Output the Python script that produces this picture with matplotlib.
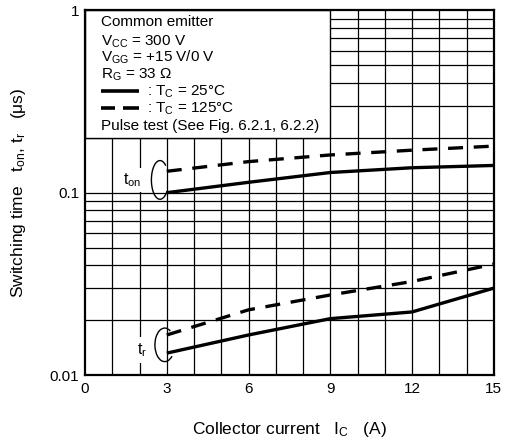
import numpy as np
import matplotlib
matplotlib.use("Agg")
import matplotlib.pyplot as plt
from matplotlib.patches import Arc, Rectangle
from matplotlib.ticker import NullLocator

plt.rcParams.update({
    "font.family": ["Liberation Sans", "DejaVu Sans"],
    "mathtext.fontset": "custom",
    "mathtext.rm": "Liberation Sans",
    "mathtext.it": "Liberation Sans",
    "mathtext.bf": "Liberation Sans:bold",
    "font.size": 11,
})

# =========================
# DATA
# =========================
ic = [3, 6, 9, 12, 15]
ton_25 = [0.100, 0.114, 0.129, 0.137, 0.141]
ton_125 = [0.131, 0.148, 0.161, 0.171, 0.180]
tr_25 = [0.0132, 0.0166, 0.0204, 0.0222, 0.0300]
tr_125 = [0.0166, 0.0228, 0.0275, 0.0326, 0.0406]

x_ticks = [0, 3, 6, 9, 12, 15]
y_ticks = [0.01, 0.1, 1]
y_tick_labels = ["0.01", "0.1", "1"]

legend_lines = [
    "Common emitter",
    r"V$_{\rm CC}$ = 300 V",
    r"V$_{\rm GG}$ = +15 V/0 V",
    r"R$_{\rm G}$ = 33 Ω",
    r": T$_{\rm C}$ = 25°C",
    r": T$_{\rm C}$ = 125°C",
    "Pulse test (See Fig. 6.2.1, 6.2.2)",
]

fig = plt.figure(figsize=(5.06, 4.45), dpi=100)
ax = fig.add_axes([0.168, 0.157, 0.808, 0.820])
ax.set_yscale("log")
ax.set_xlim(0, 15)
ax.set_ylim(0.01, 1)

# ----- grid (drawn by hand, datasheet style) -----
gkw = dict(color="black", linewidth=0.9, zorder=1)
minor_low = [k * 0.01 for k in range(2, 10)]
minor_high = [k * 0.1 for k in range(3, 10)]
ax.hlines(minor_low + [0.1, 0.2], 0, 15, **gkw)
ax.hlines(minor_high, 9, 15, **gkw)
ax.vlines(range(1, 15), 0.01, 0.2, **gkw)
ax.vlines(range(10, 15), 0.2, 1, **gkw)

# condition box in the upper-left corner
ax.add_patch(Rectangle((0, 0.2), 9, 0.8, facecolor="white", edgecolor="black",
                       linewidth=1.0, zorder=2))

# ----- curves -----
lw = 2.4
ax.plot(ic, ton_25, color="black", lw=lw, solid_capstyle="butt", zorder=4)
ax.plot(ic, ton_125, color="black", lw=lw, dashes=(4.5, 3.2), zorder=4)
ax.plot(ic, tr_25, color="black", lw=lw, solid_capstyle="butt", zorder=4)
ax.plot(ic, tr_125, color="black", lw=lw, dashes=(4.5, 3.2), zorder=4)

# ----- curve labels with brackets -----
ax.text(0.115, 0.535, r"t$_{\rm on}$", transform=ax.transAxes, ha="center",
        va="center", fontsize=11.5, zorder=3,
        bbox=dict(facecolor="white", edgecolor="none", pad=2.5))
ax.add_patch(Arc((0.1834, 0.535), 0.042, 0.106, theta1=70, theta2=300,
                 transform=ax.transAxes, color="black", lw=1.0, zorder=5))
ax.text(0.140, 0.068, r"t$_{\rm r}$", transform=ax.transAxes, ha="center",
        va="center", fontsize=11.5, zorder=3,
        bbox=dict(facecolor="white", edgecolor="none", pad=3))
ax.add_patch(Arc((0.195, 0.083), 0.048, 0.092, theta1=70, theta2=300,
                 transform=ax.transAxes, color="black", lw=1.0, zorder=5))

# ----- condition text -----
baselines = [0.956, 0.904, 0.858, 0.813, 0.767, 0.719, 0.672]
for i, (txt, yb) in enumerate(zip(legend_lines, baselines)):
    xt = 0.152 if i in (4, 5) else 0.039
    ax.text(xt, yb, txt, transform=ax.transAxes, ha="left", va="baseline",
            fontsize=11, zorder=6)
ax.plot([0.039, 0.132], [0.779, 0.779], transform=ax.transAxes, color="black",
        lw=2.6, solid_capstyle="butt", zorder=6)
ax.plot([0.039, 0.073], [0.731, 0.731], transform=ax.transAxes, color="black",
        lw=2.6, solid_capstyle="butt", zorder=6)
ax.plot([0.093, 0.132], [0.731, 0.731], transform=ax.transAxes, color="black",
        lw=2.6, solid_capstyle="butt", zorder=6)

# ----- axes -----
ax.set_xticks(x_ticks)
ax.set_yticks(y_ticks, labels=y_tick_labels)
ax.yaxis.set_minor_locator(NullLocator())
ax.tick_params(axis="both", length=0, labelsize=11)
ax.tick_params(axis="x", pad=5)
ax.tick_params(axis="y", pad=4)
for sp in ax.spines.values():
    sp.set_linewidth(1.6)
    sp.set_zorder(7)

ax.set_xlabel(r"Collector current   I$_{\rm C}$   (A)", fontsize=12.5, labelpad=17)
ax.set_ylabel(r"Switching time   t$_{\rm on}$, t$_{\rm r}$   (μs)", fontsize=12.5,
              labelpad=16)

fig.savefig("out.png", dpi=100)
